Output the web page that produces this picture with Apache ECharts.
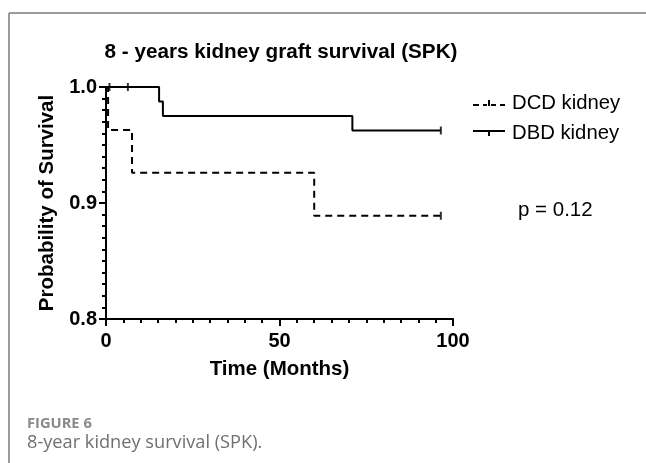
<!DOCTYPE html>
<html>
<head>
<meta charset="utf-8">
<script src="https://cdn.jsdelivr.net/npm/echarts@6/dist/echarts.min.js"></script>
<style>
  html, body { margin: 0; padding: 0; background: #fff; }
  #chart { width: 646px; height: 463px; }
</style>
</head>
<body>
<div id="chart"></div>
<script>
// Kaplan-Meier steps
var dbdTime = [0, 15.3, 16.4, 71, 96.5];
var dbdSurv = [1.0, 0.9875, 0.975, 0.9625, 0.9625];
var dcdTime = [0, 0.6, 7.5, 60, 96.5];
var dcdSurv = [1.0, 0.963, 0.926, 0.889, 0.889];
// censored observations (tick marks)
var dbdCensorTime = [1, 6.3, 96.5];
var dbdCensorSurv = [1.0, 1.0, 0.9625];
var dcdCensorTime = [96.5];
var dcdCensorSurv = [0.889];

function pairs(xs, ys) {
    var out = [];
    for (var i = 0; i < xs.length; i++) out.push([xs[i], ys[i]]);
    return out;
}

var myChart = echarts.init(document.getElementById('chart'));
var font = 'Liberation Sans';
// legend samples: dashed / solid line with a censor tick
var dcdIcon = 'path://M0,5h6v2h-6z M10,5h4v2h-4z M15,1h2v6h-2z M18,5h5v2h-5z M27,5h5v2h-5z';
var dbdIcon = 'path://M0,4h32v2h-32z M15,4h2v6h-2z';

var option = {
    animation: false,
    backgroundColor: '#fff',
    title: {
        text: '8 - years kidney graft survival (SPK)',
        left: 276,
        top: 37,
        textAlign: 'center',
        textStyle: { fontFamily: font, fontSize: 20.7, fontWeight: 'bold', color: '#000' }
    },
    legend: {
        orient: 'vertical',
        left: 468,
        top: 88,
        itemWidth: 32,
        itemHeight: 10,
        itemGap: 10,
        textStyle: { fontFamily: font, fontSize: 20.3, color: '#000', padding: [2, 0, 0, 2] },
        data: [
            { name: 'DCD kidney', icon: dcdIcon },
            { name: 'DBD kidney', icon: dbdIcon }
        ]
    },
    grid: { left: 106, right: 193, top: 87, bottom: 144 },
    xAxis: {
        type: 'value',
        min: 0, max: 100, interval: 50,
        name: 'Time (Months)',
        nameLocation: 'middle',
        nameGap: 40,
        nameTextStyle: { fontFamily: font, fontSize: 20.5, fontWeight: 'bold', color: '#000' },
        axisLine: { lineStyle: { color: '#000', width: 2 } },
        axisTick: { length: 7, lineStyle: { color: '#000', width: 2 } },
        minorTick: { show: true, splitNumber: 10, length: 4, lineStyle: { color: '#000', width: 2 } },
        axisLabel: { fontFamily: font, fontSize: 20, fontWeight: 'bold', color: '#000', margin: 12 },
        splitLine: { show: false }
    },
    yAxis: {
        type: 'value',
        min: 0.8, max: 1.0, interval: 0.1,
        name: 'Probability of Survival',
        nameLocation: 'middle',
        nameGap: 43,
        nameTextStyle: { fontFamily: font, fontSize: 20.5, fontWeight: 'bold', color: '#000' },
        axisLine: { show: true, lineStyle: { color: '#000', width: 2 } },
        axisTick: { show: true, length: 7, lineStyle: { color: '#000', width: 2 } },
        minorTick: { show: true, splitNumber: 10, length: 4, lineStyle: { color: '#000', width: 2 } },
        axisLabel: {
            fontFamily: font, fontSize: 20, fontWeight: 'bold', color: '#000', margin: 9,
            formatter: function (v) { return v.toFixed(1); }
        },
        splitLine: { show: false }
    },
    series: [
        {
            name: 'DCD kidney',
            type: 'line',
            step: 'end',
            data: pairs(dcdTime, dcdSurv),
            symbol: 'none',
            itemStyle: { color: '#000' },
            lineStyle: { color: '#000', width: 2, type: [7, 5] },
            z: 3
        },
        {
            name: 'DBD kidney',
            type: 'line',
            step: 'end',
            data: pairs(dbdTime, dbdSurv),
            symbol: 'none',
            itemStyle: { color: '#000' },
            lineStyle: { color: '#000', width: 2 },
            z: 3
        },
        {
            name: 'DBD censored',
            type: 'scatter',
            data: pairs(dbdCensorTime, dbdCensorSurv),
            symbol: 'rect',
            symbolSize: [2, 8],
            itemStyle: { color: '#000' },
            z: 4
        },
        {
            name: 'DCD censored',
            type: 'scatter',
            data: pairs(dcdCensorTime, dcdCensorSurv),
            symbol: 'rect',
            symbolSize: [2, 8],
            itemStyle: { color: '#000' },
            z: 4
        }
    ],
    graphic: [
        {
            type: 'line',
            shape: { x1: 9, y1: 13, x2: 646, y2: 13 },
            style: { stroke: '#9a9a9a', lineWidth: 2 }
        },
        {
            type: 'line',
            shape: { x1: 9, y1: 13, x2: 9, y2: 463 },
            style: { stroke: '#9a9a9a', lineWidth: 2 }
        },
        {
            type: 'text',
            left: 518, top: 200,
            style: { text: 'p = 0.12', fontFamily: font, fontSize: 20.5, fill: '#000' }
        },
        {
            type: 'text',
            left: 27, top: 416,
            style: { text: 'FIGURE 6', fontFamily: 'Open Sans', fontSize: 14.7, fontWeight: 'bold', fill: '#8a8a8a' }
        },
        {
            type: 'text',
            left: 27, top: 434,
            style: { text: '8-year kidney survival (SPK).', fontFamily: 'Open Sans', fontSize: 18.2, fill: '#707070' }
        }
    ]
};
myChart.setOption(option);
</script>
</body>
</html>
